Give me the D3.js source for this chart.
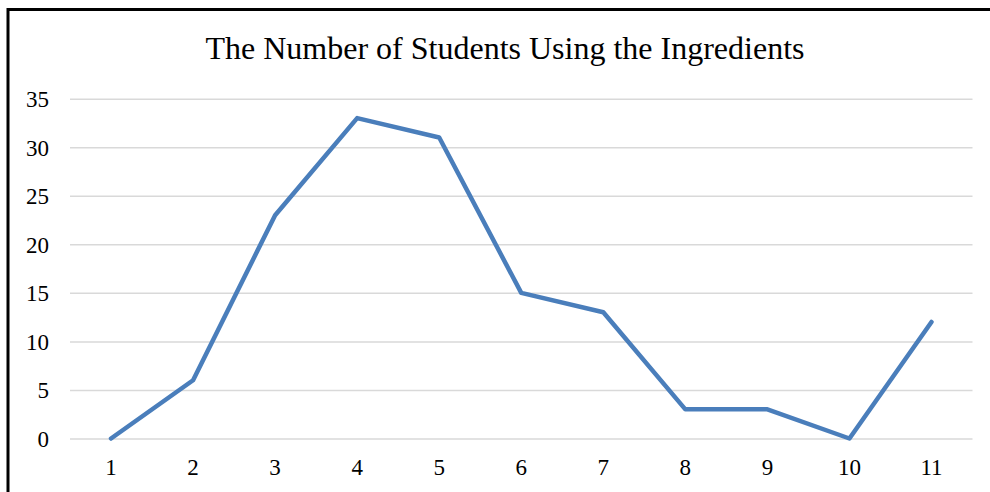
<!DOCTYPE html>
<html><head><meta charset="utf-8">
<script src="https://cdn.jsdelivr.net/npm/d3@7"></script>
<style>body{margin:0;background:#fff}svg{display:block}</style>
</head><body>
<svg id="c" width="990" height="492"></svg>
<script>
const categories = ["1","2","3","4","5","6","7","8","9","10","11"];
const values = [0,6,23,33,31,15,13,3,3,0,12];
const yTicks = [0,5,10,15,20,25,30,35];
const title = "The Number of Students Using the Ingredients";

(function(){
const svg = d3.select("#c");
const serif = "'Liberation Serif', 'Times New Roman', serif";
svg.append("rect").attr("x", 8).attr("y", 9.5).attr("width", 1100).attr("height", 600)
  .attr("fill", "#fff").attr("stroke", "#000").attr("stroke-width", 3);

const pL = 70, pR = 972.5, pT = 98.7, pB = 438.5;
const x = d3.scaleBand().domain(categories).range([pL, pR]);
const y = d3.scaleLinear().domain([0, 35]).range([pB, pT]);

svg.append("text").attr("x", 505).attr("y", 59).attr("text-anchor", "middle")
  .style("font-family", serif).style("font-size", "32px")
  .attr("fill", "#000").text(title);

const yAxis = d3.axisLeft(y).tickValues(yTicks).tickSize(-(pR - pL)).tickPadding(21);
const gy = svg.append("g").attr("transform", `translate(${pL},0)`).call(yAxis);
gy.select(".domain").remove();
gy.selectAll(".tick line").attr("stroke", "#d9d9d9").attr("stroke-width", 1.5);
gy.selectAll(".tick text").style("font-family", serif)
  .style("font-size", "23px").attr("fill", "#000").attr("dy", "0.34em");

const xAxis = d3.axisBottom(x).tickSize(0).tickPadding(20);
const gx = svg.append("g").attr("transform", `translate(0,${pB})`).call(xAxis);
gx.select(".domain").remove();
gx.selectAll(".tick text").style("font-family", serif)
  .style("font-size", "23px").attr("fill", "#000");

const line = d3.line().x((d, i) => x(categories[i]) + x.bandwidth() / 2).y(d => y(d));
svg.append("path").datum(values).attr("d", line).attr("fill", "none")
  .attr("stroke", "#4a7ebb").attr("stroke-width", 4.5).attr("stroke-linejoin", "round").attr("stroke-linecap", "round");
})();
</script>
</body></html>
